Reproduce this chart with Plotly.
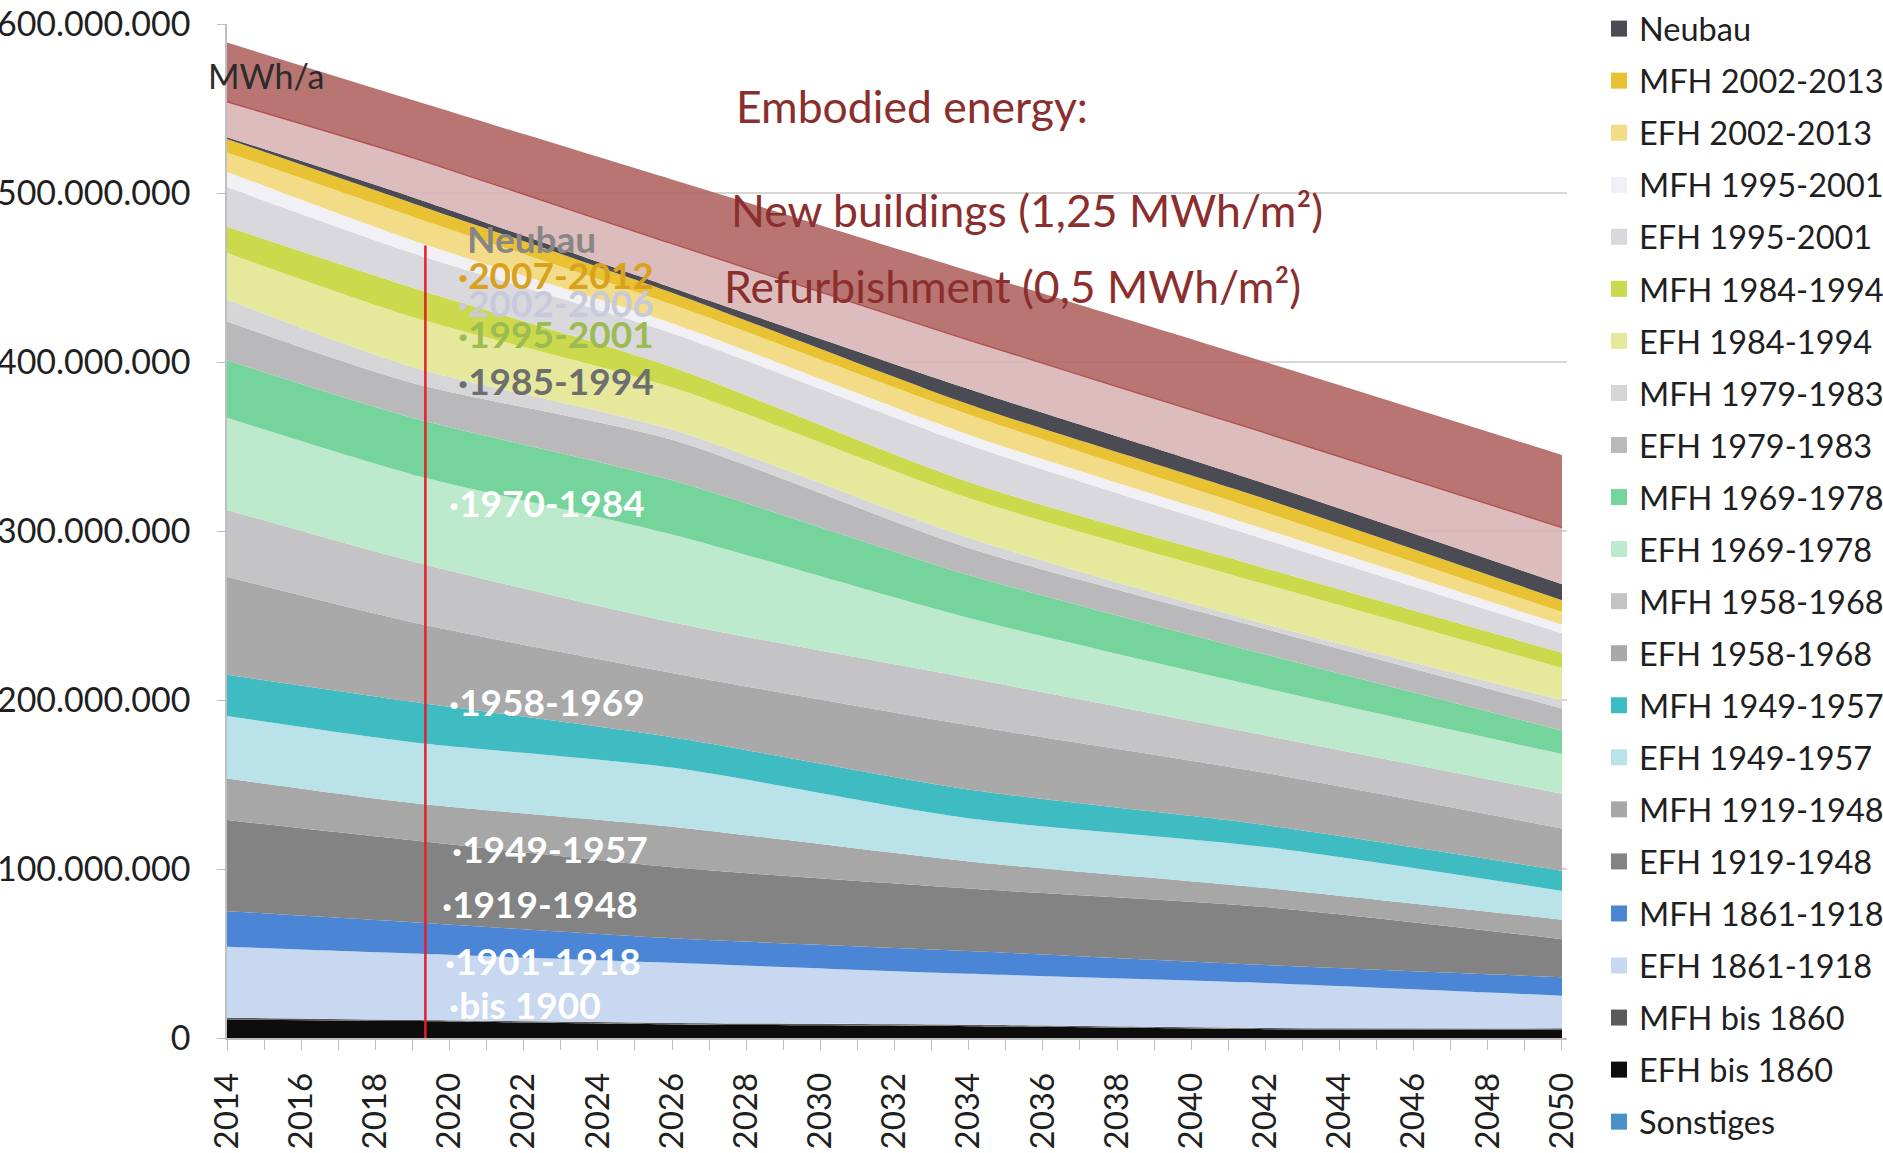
import plotly.graph_objects as go

# ---------------- data (values in million MWh/a) ----------------
years = [2014, 2019, 2026, 2034, 2042, 2050]

# stacked bands, bottom -> top (band thickness)
series_names = [
    "Sonstiges", "EFH bis 1860", "MFH bis 1860",
    "EFH 1861-1918", "MFH 1861-1918",
    "EFH 1919-1948", "MFH 1919-1948",
    "EFH 1949-1957", "MFH 1949-1957",
    "EFH 1958-1968", "MFH 1958-1968",
    "EFH 1969-1978", "MFH 1969-1978",
    "EFH 1979-1983", "MFH 1979-1983",
    "EFH 1984-1994", "MFH 1984-1994",
    "EFH 1995-2001", "MFH 1995-2001",
    "EFH 2002-2013", "MFH 2002-2013",
    "Neubau",
]
sonstiges      = [0, 0, 0, 0, 0, 0]
efh_bis1860    = [11, 10, 8, 7, 5.2, 5]
mfh_bis1860    = [1, 0.7, 0.9, 0.8, 0.7, 0.7]
efh_1861_1918  = [42, 39.3, 35.6, 30.2, 26.6, 19.3]
mfh_1861_1918  = [21, 18.5, 14.5, 13.5, 10.7, 11]
efh_1919_1948  = [54, 48.5, 42, 37, 34.3, 22.5]
mfh_1919_1948  = [24.5, 22, 24, 16, 11.3, 11.5]
efh_1949_1957  = [37, 36, 35, 25.5, 24.2, 17]
mfh_1949_1957  = [24.5, 24, 18, 17, 13, 12]
efh_1958_1968  = [58, 47, 38, 38, 30.8, 25]
mfh_1958_1968  = [39.5, 36, 30, 28, 22.2, 20.5]
efh_1969_1978  = [54.5, 51.5, 52, 35.5, 28, 23.5]
mfh_1969_1978  = [34, 33.5, 32, 25.5, 20, 14]
efh_1979_1983  = [23, 20.6, 24, 16, 15, 13]
mfh_1979_1983  = [13, 9.4, 6, 6, 3, 5]
efh_1984_1994  = [27.5, 29.6, 25, 23.5, 23.5, 19]
mfh_1984_1994  = [15.5, 17.4, 12, 9.5, 9.5, 9]
efh_1995_2001  = [23.5, 20.5, 20, 22, 17, 11.5]
mfh_1995_2001  = [9, 7.5, 6, 6, 6, 5]
efh_2002_2013  = [11.5, 14, 11, 12, 10, 7.5]
mfh_2002_2013  = [8, 8, 7, 6, 8, 7]
neubau         = [1, 3.5, 3, 9, 9, 9.5]

series_values = [
    sonstiges, efh_bis1860, mfh_bis1860, efh_1861_1918, mfh_1861_1918,
    efh_1919_1948, mfh_1919_1948, efh_1949_1957, mfh_1949_1957,
    efh_1958_1968, mfh_1958_1968, efh_1969_1978, mfh_1969_1978,
    efh_1979_1983, mfh_1979_1983, efh_1984_1994, mfh_1984_1994,
    efh_1995_2001, mfh_1995_2001, efh_2002_2013, mfh_2002_2013, neubau,
]

# embodied energy bands stacked on top
embodied_refurb = [21, 23.5, 26, 29, 30, 33.5]
embodied_new    = [35, 34, 38, 41, 42, 43]

y_ticks = [0, 100, 200, 300, 400, 500, 600]
x_ticks = list(range(2014, 2051, 2))

band_labels = ["Neubau", "·2007-2012", "·2002-2006", "·1995-2001", "·1985-1994",
               "·1970-1984", "·1958-1969", "·1949-1957", "·1919-1948",
               "·1901-1918", "·bis 1900"]

# ---------------- styles ----------------
colors = {
    "Sonstiges": "#4a90c8",
    "EFH bis 1860": "#0d0d0d",
    "MFH bis 1860": "#5a5a5a",
    "EFH 1861-1918": "#c8d8f0",
    "MFH 1861-1918": "#4b86d6",
    "EFH 1919-1948": "#838383",
    "MFH 1919-1948": "#a7a7a7",
    "EFH 1949-1957": "#b9e3e8",
    "MFH 1949-1957": "#3fbcc2",
    "EFH 1958-1968": "#a9a9a9",
    "MFH 1958-1968": "#c4c4c6",
    "EFH 1969-1978": "#bde9cd",
    "MFH 1969-1978": "#74d49b",
    "EFH 1979-1983": "#b9b9bb",
    "MFH 1979-1983": "#d6d6d8",
    "EFH 1984-1994": "#e6e99c",
    "MFH 1984-1994": "#cbda4c",
    "EFH 1995-2001": "#d9d9dd",
    "MFH 1995-2001": "#f1f1f5",
    "EFH 2002-2013": "#f3dc88",
    "MFH 2002-2013": "#e8c233",
    "Neubau": "#4b4b53",
}
label_styles = [
    # x (year), y (million), color
    (2020.42, 473, "#8a8585"),
    (2020.18, 451.5, "#d9a21e"),
    (2020.18, 435, "#c9c9dc"),
    (2020.18, 416.6, "#9dbb52"),
    (2020.18, 388.8, "#6e6e6e"),
    (2019.93, 316.6, "#ffffff"),
    (2019.93, 199.4, "#ffffff"),
    (2020.01, 112.4, "#ffffff"),
    (2019.74, 79.3, "#ffffff"),
    (2019.82, 45.6, "#ffffff"),
    (2019.93, 20.1, "#ffffff"),
]

FONT = "Lato"
M = 1e6
SMOOTH = dict(shape="spline", smoothing=0.7)

fig = go.Figure()

for name, vals in zip(series_names, series_values):
    fig.add_trace(go.Scatter(
        x=years, y=[v * M for v in vals], name=name,
        mode="lines", stackgroup="one", line=dict(width=0, **SMOOTH),
        fillcolor=colors[name], showlegend=False, hoverinfo="skip",
    ))

fig.add_trace(go.Scatter(
    x=years, y=[v * M for v in embodied_refurb], name="Refurbishment",
    mode="lines", stackgroup="one", line=dict(width=1.3, color="#b24f4f", **SMOOTH),
    fillcolor="rgba(216,181,181,0.9)", showlegend=False, hoverinfo="skip",
))
fig.add_trace(go.Scatter(
    x=years, y=[v * M for v in embodied_new], name="New buildings",
    mode="lines", stackgroup="one", line=dict(width=0, **SMOOTH),
    fillcolor="rgba(176,102,99,0.9)", showlegend=False, hoverinfo="skip",
))

# legend entries (square markers), top to bottom
for i, name in enumerate(reversed(series_names)):
    fig.add_trace(go.Scatter(
        x=[None], y=[None], mode="markers", name=name,
        marker=dict(symbol="square", size=16, color=colors[name]),
        legendgroup=f"g{i}", showlegend=True,
    ))

# red vertical marker line
fig.add_shape(type="line", xref="x", yref="y", x0=2019.35, x1=2019.35,
              y0=-4 * M, y1=469 * M, line=dict(color="#e3202a", width=2.5),
              layer="above")

annotations = []
annotations.append(dict(x=-0.016, y=569.8 * M, xref="paper", yref="y", text="MWh/a",
                        showarrow=False, xanchor="left", yanchor="middle",
                        font=dict(family=FONT, size=34, color="#2b2b2b")))
for txt, xx, yy in [("Embodied energy:", 2027.67, 551.5),
                    ("New buildings (1,25 MWh/m²)", 2027.54, 490),
                    ("Refurbishment (0,5 MWh/m²)", 2027.35, 445)]:
    annotations.append(dict(x=xx, y=yy * M, xref="x", yref="y", text=txt,
                            showarrow=False, xanchor="left", yanchor="middle",
                            font=dict(family=FONT, size=44.5, color="#8b2e2e")))
for txt, (xx, yy, col) in zip(band_labels, label_styles):
    annotations.append(dict(x=xx, y=yy * M, xref="x", yref="y", text=txt,
                            showarrow=False, xanchor="left", yanchor="middle",
                            font=dict(family=FONT, size=37, color=col, weight=700)))

fig.update_layout(
    width=1883, height=1153,
    margin=dict(l=227, r=316, t=24, b=115, autoexpand=False),
    paper_bgcolor="white", plot_bgcolor="white",
    font=dict(family=FONT, size=33, color="#1f1f1f"),
    separators=",.",
    annotations=annotations,
    legend=dict(
        x=1.0239, y=1.0227, xanchor="left", yanchor="top",
        traceorder="grouped", tracegroupgap=6.8, maxheight=1300,
        font=dict(family=FONT, size=32.5, color="#1f1f1f"),
        bgcolor="rgba(0,0,0,0)", borderwidth=0,
    ),
    xaxis=dict(
        range=[2014, 2050.135], tickvals=x_ticks, ticktext=[str(t) for t in x_ticks],
        tickangle=-90, ticks="outside", ticklen=10, tickcolor="#bfbfbf",
        minor=dict(dtick=1, ticks="outside", ticklen=10, tickcolor="#bfbfbf"),
        showline=True, linecolor="#bfbfbf", linewidth=1.5,
        showgrid=False, zeroline=False, ticklabelstandoff=10,
        ticklabeloverflow="allow",
        tickfont=dict(family=FONT, size=33, color="#1f1f1f"),
    ),
    yaxis=dict(
        range=[0, 600 * M], tickvals=[t * M for t in y_ticks], tickformat=",d",
        ticks="outside", ticklen=8, tickcolor="#bfbfbf",
        showline=True, linecolor="#bfbfbf", linewidth=1.5,
        showgrid=True, gridcolor="#d6d6d6", gridwidth=1.5,
        zeroline=False, ticklabelstandoff=20, ticklabeloverflow="allow",
        tickfont=dict(family=FONT, size=34, color="#1f1f1f"),
    ),
)

# remove the browser's default 8px body margin so the figure sits at the page corner
fig.write_html("out.html", config={"displayModeBar": False},
               post_script="document.body.style.margin='0px';")
